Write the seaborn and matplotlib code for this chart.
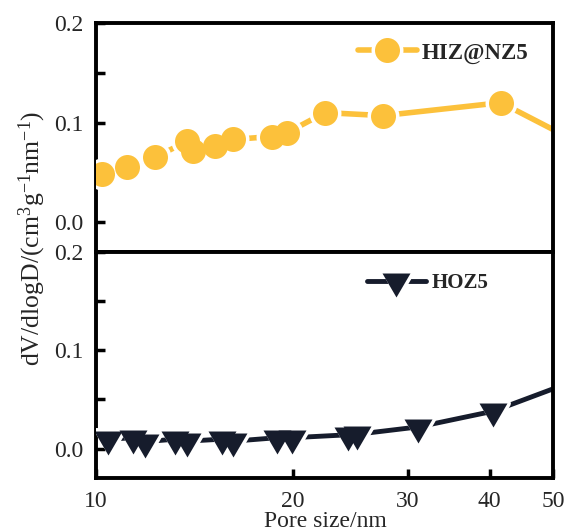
import matplotlib
matplotlib.use("Agg")
import matplotlib.pyplot as plt
import seaborn as sns
import pandas as pd
from matplotlib.lines import Line2D
from matplotlib.markers import MarkerStyle
from matplotlib.legend_handler import HandlerTuple
from matplotlib.font_manager import FontProperties
from matplotlib.ticker import FixedLocator, FixedFormatter, NullLocator

# ---------------- data ----------------
hiz_label = "HIZ@NZ5"
hiz_x = [10.2, 11.14, 12.31, 13.76, 14.09, 15.21, 16.22, 18.56, 19.62, 22.40, 27.51, 41.63, 55.0]
hiz_y = [0.048, 0.055, 0.065, 0.081, 0.071, 0.076, 0.083, 0.086, 0.090, 0.110, 0.107, 0.120, 0.079]

hoz_label = "HOZ5"
hoz_x = [10.44, 11.40, 11.88, 13.21, 13.76, 15.57, 16.22, 18.90, 19.92, 24.32, 25.05, 31.12, 40.52, 55.0]
hoz_y = [0.0095, 0.011, 0.007, 0.0095, 0.0075, 0.0095, 0.0075, 0.011, 0.011, 0.014, 0.0145, 0.022, 0.038, 0.071]

x_ticks = [10, 20, 30, 40, 50]
x_tick_labels = ["10", "20", "30", "40", "50"]
y_ticks = [0.0, 0.1, 0.2]
y_tick_labels = ["0.0", "0.1", "0.2"]
y_minor = [0.05, 0.15]
x_label = "Pore size/nm"
y_label = r"dV/dlogD/(cm$^{3}$g$^{-1}$nm$^{-1}$)"

# ---------------- style ----------------
sns.set_style("ticks")
plt.rcParams.update({
    "font.family": ["Liberation Serif", "DejaVu Serif"],
    "mathtext.fontset": "custom",
    "mathtext.rm": "Liberation Serif",
    "mathtext.it": "Liberation Serif:italic",
    "mathtext.bf": "Liberation Serif:bold",
    "axes.edgecolor": "black",
})

orange = "#FCC13B"
navy = "#161C2C"
tri_verts = [(-14, 8), (14, 8), (0, -16)]

fig = plt.figure(figsize=(5.66, 5.31), dpi=100)
ax1 = fig.add_axes([0.1696, 0.5254, 0.8074, 0.4313])
ax2 = fig.add_axes([0.1696, 0.0998, 0.8074, 0.4256], sharex=ax1)


def draw(ax, x, y, color, marker, ms, lw, halo_w):
    df = pd.DataFrame({"x": x, "y": y})
    sns.lineplot(data=df, x="x", y="y", ax=ax, color=color, lw=lw, sort=False,
                 estimator=None, legend=False, solid_capstyle="round")
    halo = MarkerStyle(marker, joinstyle="round")
    ax.plot(x, y, ls="none", marker=halo, ms=ms, mfc="white", mec="white", mew=halo_w, zorder=3)
    ax.plot(x, y, ls="none", marker=marker, ms=ms, mfc=color, mec=color, mew=0, zorder=4)
    h_line = Line2D([], [], color=color, lw=lw, solid_capstyle="round")
    h_halo = Line2D([], [], ls="none", marker=halo, ms=ms, mfc="white", mec="white", mew=halo_w)
    h_mark = Line2D([], [], ls="none", marker=marker, ms=ms, mfc=color, mec=color, mew=0)
    return (h_line, h_halo, h_mark)


h1 = draw(ax1, hiz_x, hiz_y, orange, "o", 18, 4.0, 5)
h2 = draw(ax2, hoz_x, hoz_y, navy, tri_verts, 23, 3.5, 5)

for ax in (ax1, ax2):
    ax.set_xscale("log")
    ax.set_xlim(10, 50)
    ax.set_ylim(-0.03, 0.2)
    ax.yaxis.set_major_locator(FixedLocator(y_ticks))
    ax.yaxis.set_major_formatter(FixedFormatter(y_tick_labels))
    ax.yaxis.set_minor_locator(FixedLocator(y_minor))
    ax.set_xlabel("")
    ax.set_ylabel("")
    for s in ax.spines.values():
        s.set_visible(True)
        s.set_linewidth(2.8)
        s.set_color("black")
    ax.tick_params(axis="y", which="both", direction="in", length=6.5, width=2.5,
                   labelsize=17, pad=9, right=False, left=True, color="black")

ax2.xaxis.set_major_locator(FixedLocator(x_ticks))
ax2.xaxis.set_major_formatter(FixedFormatter(x_tick_labels))
ax2.xaxis.set_minor_locator(NullLocator())
ax2.tick_params(axis="x", which="both", direction="in", length=6.5, width=2.5,
                labelsize=17, pad=9, top=False, bottom=True, color="black")
ax1.tick_params(axis="x", which="both", bottom=False, top=False, labelbottom=False)

ax1.legend(handles=[h1], labels=[hiz_label], handler_map={tuple: HandlerTuple(ndivide=1, pad=0)},
           loc="center left", bbox_to_anchor=(0.573, 0.869), frameon=False, borderpad=0,
           borderaxespad=0, handlelength=2.57, handletextpad=0.22, numpoints=1,
           prop=FontProperties(family="Liberation Serif", weight="bold", size=16.5))
ax2.legend(handles=[h2], labels=[hoz_label], handler_map={tuple: HandlerTuple(ndivide=1, pad=0)},
           loc="center left", bbox_to_anchor=(0.593, 0.863), frameon=False, borderpad=0,
           borderaxespad=0, handlelength=2.83, handletextpad=0.29, numpoints=1,
           prop=FontProperties(family="Liberation Serif", weight="bold", size=15))

fig.text(32 / 566, 1 - 238 / 531, y_label, rotation=90, ha="center", va="center", fontsize=18.5)
fig.text(325 / 566, 4 / 531, x_label, ha="center", va="baseline", fontsize=17)

fig.savefig("out.png", dpi=100)
